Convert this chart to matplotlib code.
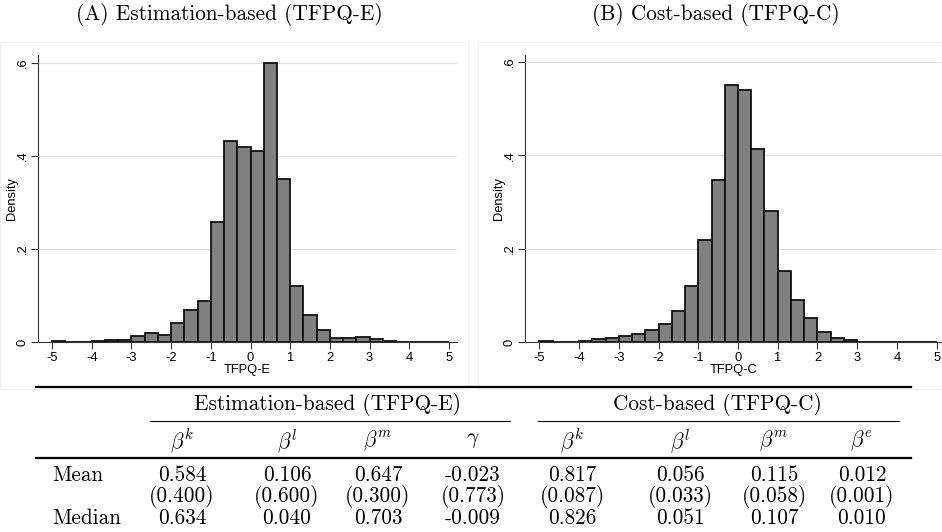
import numpy as np
import matplotlib
matplotlib.use("Agg")
import matplotlib.pyplot as plt
from matplotlib.lines import Line2D
from matplotlib.patches import Rectangle

# 30 bins of width 1/3 over [-5, 5]
BIN_EDGES = np.linspace(-5, 5, 31)

DENSITY_E = [0.002, 0.001, 0.001, 0.003, 0.004, 0.005, 0.012, 0.019, 0.016, 0.041,
             0.069, 0.088, 0.258, 0.432, 0.419, 0.410, 0.601, 0.351, 0.120, 0.057,
             0.025, 0.008, 0.009, 0.010, 0.006, 0.003, 0.001, 0.001, 0.001, 0.001]
DENSITY_C = [0.002, 0.001, 0.001, 0.002, 0.006, 0.009, 0.013, 0.017, 0.026, 0.040,
             0.066, 0.120, 0.219, 0.347, 0.551, 0.539, 0.414, 0.282, 0.153, 0.091,
             0.052, 0.021, 0.009, 0.004, 0.001, 0.001, 0.001, 0.001, 0.001, 0.001]

X_TICKS = [-5, -4, -3, -2, -1, 0, 1, 2, 3, 4, 5]
Y_TICKS = [0, 0.2, 0.4, 0.6]
Y_TICK_LABELS = ["0", ".2", ".4", ".6"]

PANEL_TITLES = ["(A) Estimation-based (TFPQ-E)", "(B) Cost-based (TFPQ-C)"]
X_LABELS = ["TFPQ-E", "TFPQ-C"]

GROUPS = ["Estimation-based (TFPQ-E)", "Cost-based (TFPQ-C)"]
COEFS = [r"$\beta^k$", r"$\beta^l$", r"$\beta^m$", r"$\gamma$",
         r"$\beta^k$", r"$\beta^l$", r"$\beta^m$", r"$\beta^e$"]
MEAN = [0.584, 0.106, 0.647, -0.023, 0.817, 0.056, 0.115, 0.012]
MEAN_SE = [0.400, 0.600, 0.300, 0.773, 0.087, 0.033, 0.058, 0.001]
MEDIAN = [0.634, 0.040, 0.703, -0.009, 0.826, 0.051, 0.107, 0.010]

plt.rcParams["font.family"] = "Liberation Sans"
plt.rcParams["mathtext.fontset"] = "cm"
plt.rcParams["axes.unicode_minus"] = False

W, H = 942, 532
SERIF = "cmr10"
TXT = 15.3
SMALL = 9.3


def fx(px):
    return px / W


def fy(py):
    return 1 - py / H


fig = plt.figure(figsize=(W / 100, H / 100), dpi=100)

# faint graph-region outlines
for x0, x1 in [(0, 468), (478, 942)]:
    fig.add_artist(Rectangle((fx(x0), fy(389)), fx(x1) - fx(x0), (389 - 42) / H,
                             transform=fig.transFigure, fill=False,
                             edgecolor="#f0f0f0", lw=0.8))

# (left px, right px, x at -5, x at 5, y at 0, y at .6, ylabel x, title centre)
panels = [
    (38, 457, 52.0, 449.0, 342.0, 63.0, 12, 229),
    (525, 942, 539.3, 936.7, 342.3, 62.0, 499, 716),
]
for (l, r, xm5, xp5, y0, y6, ylx, tc), dens, xlab, title in zip(
        panels, [DENSITY_E, DENSITY_C], X_LABELS, PANEL_TITLES):
    top = 55
    ax = fig.add_axes([fx(l), fy(y0), fx(r) - fx(l), (y0 - top) / H])
    sx = (xp5 - xm5) / 10
    sy = (y0 - y6) / 0.6
    ax.set_xlim(-5 - (xm5 - l) / sx, 5 + (r - xp5) / sx)
    ax.set_ylim(0, (y0 - top) / sy)
    ax.bar(BIN_EDGES[:-1], dens, width=np.diff(BIN_EDGES), align="edge",
           color="#808080", edgecolor="#111111", lw=1.3, zorder=3)
    ax.set_yticks(Y_TICKS)
    ax.set_yticklabels(Y_TICK_LABELS, rotation=90, va="center")
    ax.set_xticks(X_TICKS)
    ax.set_xticklabels([str(t) for t in X_TICKS])
    ax.tick_params(labelsize=SMALL, length=5, width=0.8, color="#333333", pad=2)
    ax.tick_params(axis="y", pad=1.5)
    ax.grid(axis="y", color="#e4e4e4", lw=0.9, zorder=0)
    for s in ["top", "right"]:
        ax.spines[s].set_visible(False)
    for s in ["left", "bottom"]:
        ax.spines[s].set_linewidth(0.8)
        ax.spines[s].set_color("#333333")
    ax.set_xlabel(xlab, fontsize=SMALL, labelpad=0)
    ax.set_ylabel("Density", fontsize=SMALL, va="center")
    ax.yaxis.set_label_coords((ylx - l) / (r - l), 0.5)
    fig.text(fx(tc), fy(14), title, family=SERIF, fontsize=TXT,
             ha="center", va="center")

# summary table below the histograms
col_x = [182, 287, 378, 473, 572, 680, 774, 862]


def rule(x0, x1, y, lw):
    fig.add_artist(Line2D([fx(x0), fx(x1)], [fy(y), fy(y)],
                          transform=fig.transFigure, color="black", lw=lw))


rule(36, 911, 387, 1.6)
rule(150, 510, 421, 0.8)
rule(538, 899, 421, 0.8)
rule(36, 911, 458, 1.6)

fig.text(fx(328), fy(404), GROUPS[0], family=SERIF, fontsize=TXT,
         ha="center", va="center")
fig.text(fx(717), fy(404), GROUPS[1], family=SERIF, fontsize=TXT,
         ha="center", va="center")

for x, c, m, se, md in zip(col_x, COEFS, MEAN, MEAN_SE, MEDIAN):
    fig.text(fx(x), fy(441), c, fontsize=TXT, ha="center", va="center")
    fig.text(fx(x), fy(475), f"{m:.3f}", family=SERIF, fontsize=TXT,
             ha="center", va="center")
    fig.text(fx(x), fy(497), f"({se:.3f})", family=SERIF, fontsize=TXT,
             ha="center", va="center")
    fig.text(fx(x), fy(518), f"{md:.3f}", family=SERIF, fontsize=TXT,
             ha="center", va="center")

fig.text(fx(52), fy(475), "Mean", family=SERIF, fontsize=TXT, ha="left", va="center")
fig.text(fx(52), fy(518), "Median", family=SERIF, fontsize=TXT, ha="left", va="center")

fig.savefig("out.png", dpi=100)
